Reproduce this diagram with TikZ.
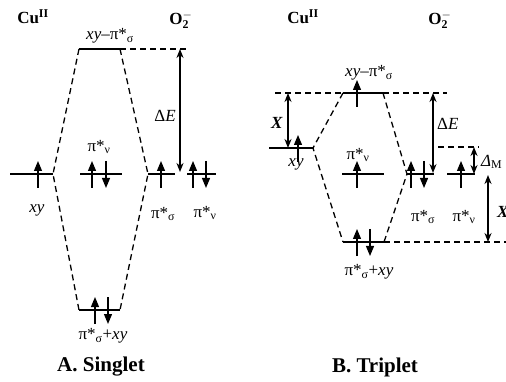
\documentclass[tikz,border=0pt]{standalone}
\usepackage{fontspec}
\setmainfont{Liberation Serif}
\usetikzlibrary{arrows.meta, calc, positioning}
\tikzset{
  level/.style  = {line width=1.6pt},
  corr/.style   = {line width=1.3pt, dash pattern=on 6pt off 4pt},
  spin/.style   = {-{Triangle[length=10pt, width=8pt]}, line width=1.2pt},
  gap/.style    = {{Stealth[length=9pt, width=7pt]}-{Stealth[length=9pt, width=7pt]},
                   line width=1.6pt},
  lbl/.style    = {font=\fontsize{17}{20}\selectfont, inner sep=0pt},
  head/.style   = {font=\fontsize{17}{20}\selectfont\bfseries, inner sep=0pt},
  title/.style  = {font=\fontsize{21}{24}\selectfont\bfseries, inner sep=0pt},
}
% one electron on a level: x position, level height
\newcommand{\eup}[2]{\draw[spin] (#1,#2+14) -- (#1,#2-13);}
\newcommand{\edn}[2]{\draw[spin] (#1,#2-13) -- (#1,#2+14);}

\begin{document}
\begin{tikzpicture}[x=1pt, y=-1pt]
  \useasboundingbox (0,0) rectangle (506,382);
  \clip (0,0) rectangle (506,382);

  % ---------------- A. singlet ----------------
  \coordinate (sTopL) at (79,49);
  \coordinate (sTopR) at (120,49);
  \coordinate (sTopE) at (187,49);
  \coordinate (sXyL)  at (10,174);
  \coordinate (sXyR)  at (53,174);
  \coordinate (sPvL)  at (80,174);
  \coordinate (sPvR)  at (122,174);
  \coordinate (sPsL)  at (148,174);
  \coordinate (sPsR)  at (175,174);
  \coordinate (sPwL)  at (187,174);
  \coordinate (sPwR)  at (216,174);
  \coordinate (sBotL) at (79,310);
  \coordinate (sBotR) at (120,310);
  \coordinate (sGapT) at (180,49);
  \coordinate (sGapB) at (180,172);

  \node[head] (sCu) at (33,17) {Cu\textsuperscript{II}};
  \node[head] (sO)  at (181,20) {O$^{-}_{\mathbf{2}}$};

  \draw[level] (sTopL) -- (sTopR);
  \draw[corr]  (sTopR) -- (sTopE);
  \draw[level] (sXyL) -- (sXyR);
  \draw[level] (sPvL) -- (sPvR);
  \draw[level] (sPsL) -- (sPsR);
  \draw[level] (sPwL) -- (sPwR);
  \draw[level] (sBotL) -- (sBotR);

  \draw[corr] (sTopL) -- (sXyR) -- (sBotL);
  \draw[corr] (sTopR) -- (sPsL) -- (sBotR);

  \eup{38}{174}
  \eup{92}{174} \edn{106}{174}
  \eup{161}{174}
  \eup{193}{174} \edn{206}{174}
  \eup{95}{310} \edn{108}{310}

  \draw[gap] (sGapT) -- (sGapB);
  \node[lbl, anchor=east] (sDE) at (176,116) {Δ\textit{E}};

  \node[lbl] (sTopLbl) at (110,36)  {\textit{xy}–π*\textsubscript{σ}};
  \node[lbl] (sXyLbl)  at (37,210)  {\textit{xy}};
  \node[lbl] (sPvLbl)  at (99,147)  {π*\textsubscript{ν}};
  \node[lbl] (sPsLbl)  at (163,214) {π*\textsubscript{σ}};
  \node[lbl] (sPwLbl)  at (205,213) {π*\textsubscript{ν}};
  \node[lbl] (sBotLbl) at (103,336) {π*\textsubscript{σ}+\textit{xy}};

  \node[title] (sTitle) at (101,367) {A. Singlet};

  % ---------------- B. triplet ----------------
  \coordinate (tTopS) at (275,93);
  \coordinate (tTopL) at (343,93);
  \coordinate (tTopR) at (383,93);
  \coordinate (tTopE) at (447,93);
  \coordinate (tXyL)  at (269,148);
  \coordinate (tXyR)  at (313,148);
  \coordinate (tPvL)  at (342,174);
  \coordinate (tPvR)  at (384,174);
  \coordinate (tPsL)  at (407,174);
  \coordinate (tPsR)  at (434,174);
  \coordinate (tPwL)  at (447,174);
  \coordinate (tPwR)  at (475,174);
  \coordinate (tBotL) at (343,242);
  \coordinate (tBotR) at (384,242);
  \coordinate (tBotE) at (506,242);
  \coordinate (tMidL) at (438,147);
  \coordinate (tMidR) at (479,147);
  \coordinate (tXaT)  at (288,93);
  \coordinate (tXaB)  at (288,148);
  \coordinate (tGapT) at (433,93);
  \coordinate (tGapB) at (433,173);
  \coordinate (tDmT)  at (474,147);
  \coordinate (tDmB)  at (474,174);
  \coordinate (tXbT)  at (488,175);
  \coordinate (tXbB)  at (488,242);

  \node[head] (tCu) at (303,17) {Cu\textsuperscript{II}};
  \node[head] (tO)  at (440,20) {O$^{-}_{\mathbf{2}}$};

  \draw[corr]  (tTopS) -- (tTopL);
  \draw[level] (tTopL) -- (tTopR);
  \draw[corr]  (tTopR) -- (tTopE);
  \draw[level] (tXyL) -- (tXyR);
  \draw[level] (tPvL) -- (tPvR);
  \draw[level] (tPsL) -- (tPsR);
  \draw[level] (tPwL) -- (tPwR);
  \draw[level] (tBotL) -- (tBotR);
  \draw[corr]  (tBotR) -- (tBotE);
  \draw[corr]  (tMidL) -- (tMidR);

  \draw[corr] (tTopL) -- (tXyR) -- (tBotL);
  \draw[corr] (tTopR) -- (tPsL) -- (tBotR);

  \eup{357}{93}
  \eup{298}{148}
  \eup{357}{174}
  \eup{411}{174} \edn{424}{174}
  \eup{461}{174}
  \eup{357}{242} \edn{370}{242}

  \draw[gap] (tXaT) -- (tXaB);
  \draw[gap] (tGapT) -- (tGapB);
  \draw[gap] (tDmT) -- (tDmB);
  \draw[gap] (tXbT) -- (tXbB);
  \node[lbl, anchor=east] (tXa) at (283,123) {\textbf{\textit{X}}};
  \node[lbl, anchor=west] (tDE) at (437,124) {Δ\textit{E}};
  \node[lbl, anchor=west] (tDm) at (481,162) {\textit{Δ}\textsubscript{M}};
  \node[lbl, anchor=west] (tXb) at (497,212) {\textbf{\textit{X}}};

  \node[lbl] (tTopLbl) at (369,73)  {\textit{xy}–π*\textsubscript{σ}};
  \node[lbl] (tXyLbl)  at (296,164) {\textit{xy}};
  \node[lbl] (tPvLbl)  at (358,155) {π*\textsubscript{ν}};
  \node[lbl] (tPsLbl)  at (423,217) {π*\textsubscript{σ}};
  \node[lbl] (tPwLbl)  at (464,217) {π*\textsubscript{ν}};
  \node[lbl] (tBotLbl) at (369,272) {π*\textsubscript{σ}+\textit{xy}};

  \node[title] (tTitle) at (375,367) {B. Triplet};
\end{tikzpicture}
\end{document}
